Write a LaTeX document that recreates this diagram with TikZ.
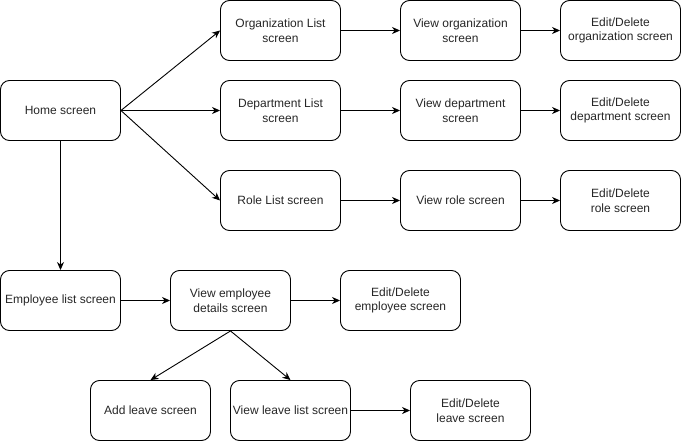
\documentclass[tikz,border=0pt]{standalone}
\usepackage{fontspec}
\setmainfont{Liberation Sans}
\usetikzlibrary{arrows.meta}
\begin{document}
\begin{tikzpicture}[x=1pt,y=-1pt,
  box/.style={draw, line width=0.9pt, rounded corners=9pt, minimum width=120pt, minimum height=60pt, inner sep=1pt, align=center, font=\fontsize{12}{14.5}\selectfont, text=black!85},
  arr/.style={line width=0.9pt, -{Stealth[length=8pt,width=7pt,inset=2.5pt]}}]
\useasboundingbox (0,0) rectangle (682,441);
\node[box] (home) at (60.5,110.5) {Home screen};
\node[box] (org) at (280.5,30.5) {Organization List\\screen};
\node[box] (vorg) at (460.5,30.5) {View organization\\screen};
\node[box] (eorg) at (620.5,30.5) {Edit/Delete\\organization screen};
\node[box] (dep) at (280.5,110.5) {Department List\\screen};
\node[box] (vdep) at (460.5,110.5) {View department\\screen};
\node[box] (edep) at (620.5,110.5) {Edit/Delete\\department screen};
\node[box] (role) at (280.5,200.5) {Role List screen};
\node[box] (vrole) at (460.5,200.5) {View role screen};
\node[box] (erole) at (620.5,200.5) {Edit/Delete\\role screen};
\node[box] (emp) at (60.5,300.5) {Employee list screen};
\node[box] (vemp) at (230.5,300.5) {View employee\\details screen};
\node[box] (eemp) at (400.5,300.5) {Edit/Delete\\employee screen};
\node[box] (add) at (150.5,410.5) {Add leave screen};
\node[box] (vlv) at (290.5,410.5) {View leave list screen};
\node[box] (elv) at (470.5,410.5) {Edit/Delete\\leave screen};
\draw[arr] (home.east) -- (org.west);
\draw[arr] (home.east) -- (dep.west);
\draw[arr] (home.east) -- (role.west);
\draw[arr] (org) -- (vorg);
\draw[arr] (vorg) -- (eorg);
\draw[arr] (dep) -- (vdep);
\draw[arr] (vdep) -- (edep);
\draw[arr] (role) -- (vrole);
\draw[arr] (vrole) -- (erole);
\draw[arr] (home.south) -- (emp.north);
\draw[arr] (emp) -- (vemp);
\draw[arr] (vemp) -- (eemp);
\draw[arr] (vemp.south) -- (add.north);
\draw[arr] (vemp.south) -- (vlv.north);
\draw[arr] (vlv) -- (elv);
\end{tikzpicture}
\end{document}
